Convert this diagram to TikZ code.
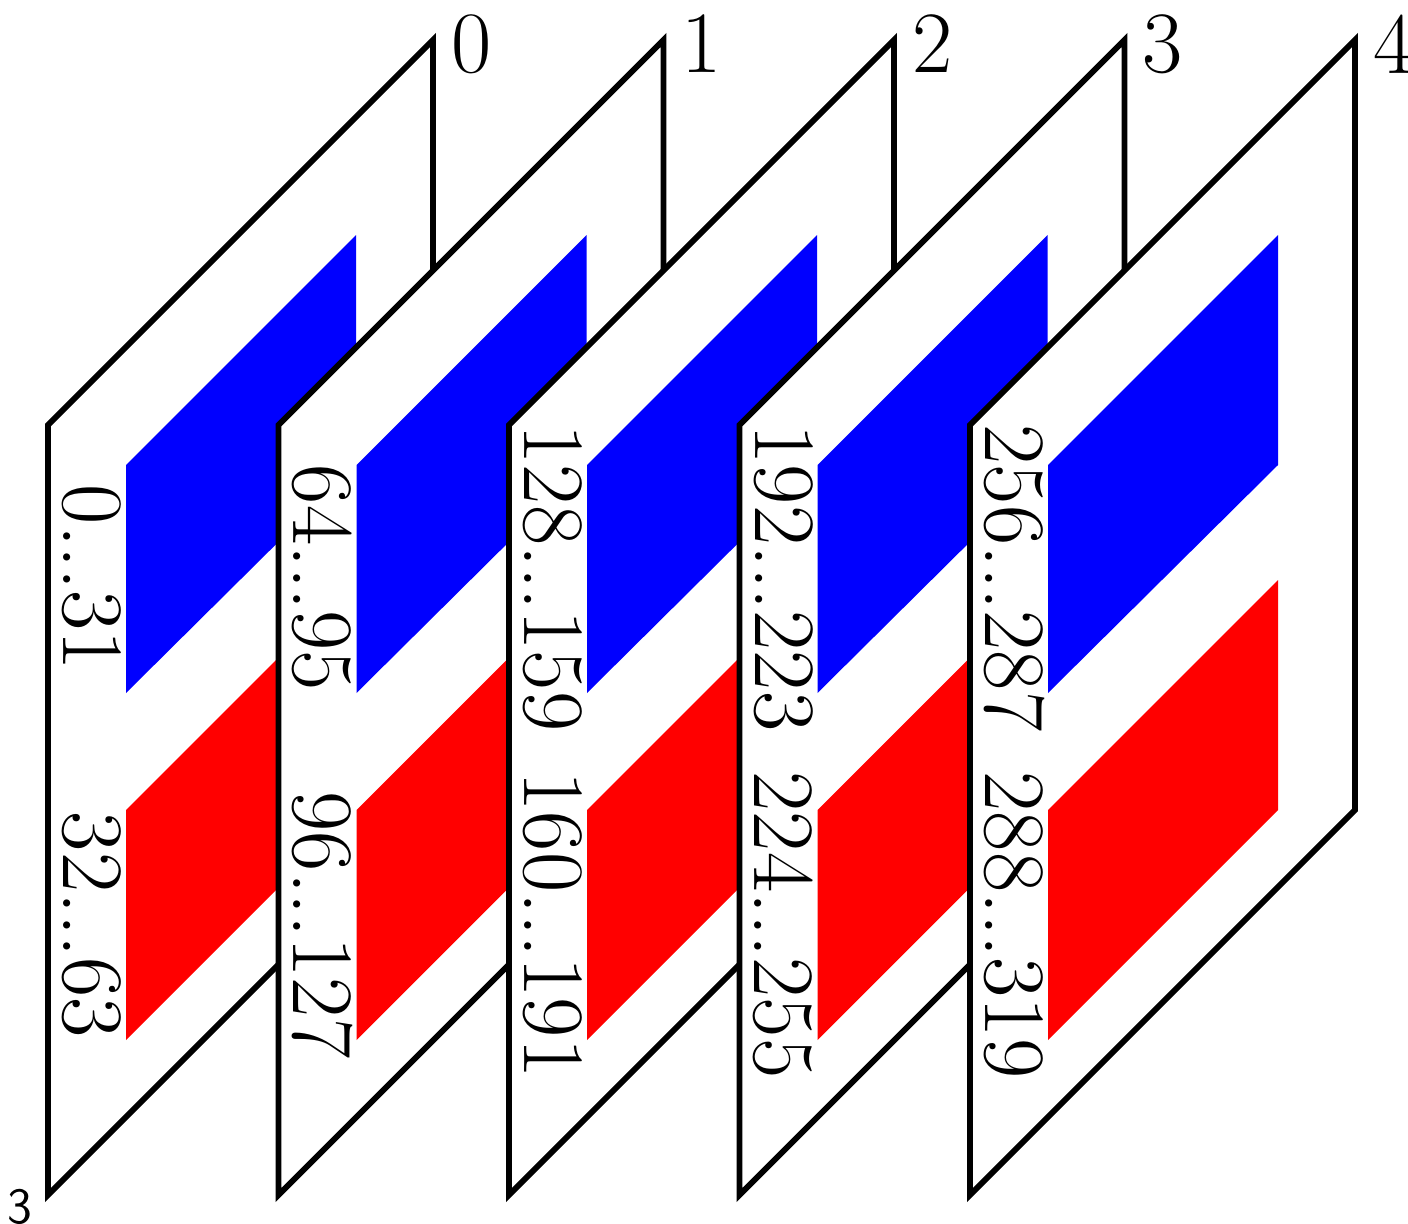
\documentclass[tikz,border=0pt]{standalone}
\usetikzlibrary{positioning,calc}
\tikzset{
  plane/.style={draw=black, fill=white, line width=1.7pt, line join=miter},
  bluepart/.style={fill=blue},
  redpart/.style={fill=red},
  rangetext/.style={rotate=-90, font=\Huge, inner sep=0pt},
  planeno/.style={anchor=west, font=\Huge, inner sep=5pt},
  stray/.style={font=\sffamily\Large, inner sep=0pt}
}
% one plane: #1 index, #2 left x, #3 upper range, #4 lower range
\newcommand{\layer}[4]{%
  \draw[plane] (#2,425) -- (#2+385,40) -- (#2+385,810) -- (#2,1195) -- cycle;
  \fill[bluepart] (#2+78,465) -- (#2+308,235) -- (#2+308,465) -- (#2+78,693) -- cycle;
  \fill[redpart] (#2+78,810) -- (#2+308,580) -- (#2+308,810) -- (#2+78,1040) -- cycle;
  \node[rangetext] (hi#1) at (#2+44,578) {#3};
  \node[rangetext] (lo#1) at (#2+44,925) {#4};
  \node[planeno] (no#1) at (#2+385,44) {#1};
}

\begin{document}
\begin{tikzpicture}[x=0.01cm, y=-0.01cm]
  \useasboundingbox (0,0) rectangle (1408,1224);
  \layer{0}{48}{0...31}{32...63}
  \layer{1}{278.5}{64...95}{96...127}
  \layer{2}{509}{128...159}{160...191}
  \layer{3}{739.5}{192...223}{224...255}
  \layer{4}{970}{256...287}{288...319}
  \node[stray] (corner) at (20,1207) {3};
\end{tikzpicture}
\end{document}
